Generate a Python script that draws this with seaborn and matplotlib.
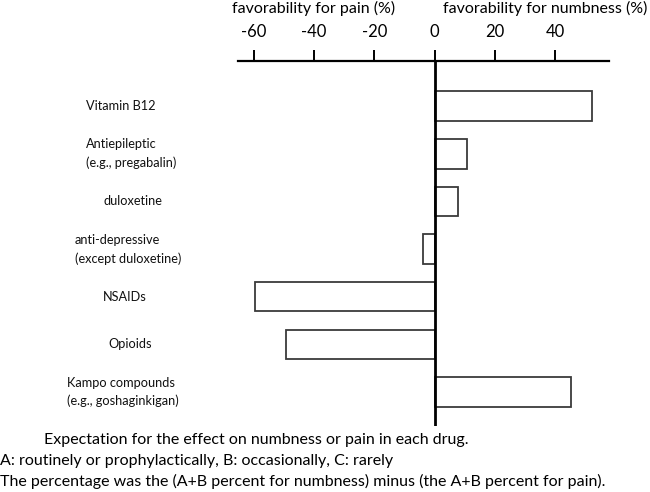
import matplotlib
matplotlib.use("Agg")
import matplotlib.pyplot as plt
import matplotlib.transforms as mtransforms
import seaborn as sns
import pandas as pd

# ---- data ----
categories = [
    "Vitamin B12",
    "Antiepileptic\n(e.g., pregabalin)",
    "duloxetine",
    "anti-depressive\n(except duloxetine)",
    "NSAIDs",
    "Opioids",
    "Kampo compounds\n(e.g., goshaginkigan)",
]
values = [52.3, 10.6, 7.7, -4.0, -59.8, -49.4, 45.2]
tick_values = [-60, -40, -20, 0, 20, 40]
tick_labels = ["-60", "-40", "-20", "0", "20", "40"]
title_left = "favorability for pain (%)"
title_right = "favorability for numbness (%)"
caption = [
    "Expectation for the effect on numbness or pain in each drug.",
    "A: routinely or prophylactically, B: occasionally, C: rarely",
    "The percentage was the (A+B percent for numbness) minus (the A+B percent for pain).",
]

# ---- style / layout ----
label_x_px = [86, 86, 104, 75, 103, 108, 67]

sns.set_theme(style="white")
plt.rcParams["font.family"] = ["Lato", "DejaVu Sans"]

W, H = 650, 492
fig = plt.figure(figsize=(W / 100, H / 100), dpi=100)
ax = fig.add_axes([238 / W, 1 - 426 / H, (609 - 238) / W, (426 - 61.3) / H])

df = pd.DataFrame({"drug": categories, "value": values})
sns.barplot(data=df, x="value", y="drug", orient="h", order=categories,
            color="white", edgecolor="#3a3a3a", linewidth=1.3, width=0.62,
            ax=ax, saturation=1)

ax.set_xlim(-65.3, 57.9)
ax.set_ylim(6.714, -0.943)
ax.axvline(0, color="black", lw=2.0, zorder=5)

for s in ["left", "right", "bottom"]:
    ax.spines[s].set_visible(False)
ax.spines["top"].set_visible(True)
ax.spines["top"].set_color("black")
ax.spines["top"].set_linewidth(1.6)

ax.xaxis.set_ticks_position("top")
ax.xaxis.set_label_position("top")
ax.set_xticks(tick_values)
ax.set_xticklabels(tick_labels)
ax.tick_params(axis="x", direction="out", length=8, width=1.4, color="black",
               pad=7.5, labelsize=12, top=True, bottom=False,
               labeltop=True, labelbottom=False, labelcolor="black")
ax.set_yticks([])
ax.set_xlabel("")
ax.set_ylabel("")

trans = mtransforms.blended_transform_factory(fig.transFigure, ax.transData)
for i, (lab, xp) in enumerate(zip(categories, label_x_px)):
    ax.text(xp / W, i, lab, transform=trans,
            ha="left", va="center", fontsize=9.2, color="#111111", linespacing=1.6,
            multialignment="left")

fig.text(232 / W, 1 - 8 / H, title_left, ha="left", va="center", fontsize=11.5, color="black")
fig.text(443 / W, 1 - 8 / H, title_right, ha="left", va="center", fontsize=11.5, color="black")

fig.text(44 / W, 1 - 440 / H, caption[0], ha="left", va="center", fontsize=11.5, color="black")
fig.text(0 / W, 1 - 461 / H, caption[1], ha="left", va="center", fontsize=11.5, color="black")
fig.text(0 / W, 1 - 481 / H, caption[2], ha="left", va="center", fontsize=11.5, color="black")

fig.savefig("out.png", dpi=100, facecolor="white")
